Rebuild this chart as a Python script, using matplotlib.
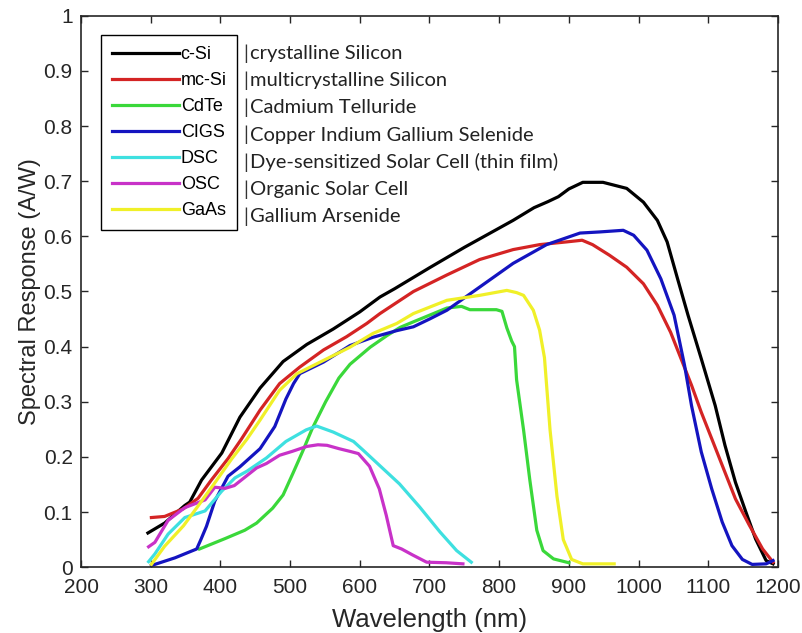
import numpy as np
import matplotlib
matplotlib.use('Agg')
import matplotlib.pyplot as plt

plt.rcParams['font.family'] = ['Liberation Sans', 'DejaVu Sans']

# spectral response curves
csi_x = [296, 320, 349, 356, 373, 402, 428, 457, 490, 524, 562, 600, 629, 650, 700, 750, 800, 820, 850,
         870, 885, 900, 920, 949, 983, 1007, 1027, 1041, 1056, 1071, 1090, 1110, 1124, 1139, 1154, 1168, 1183, 1193]
csi_y = [0.062, 0.08, 0.112, 0.118, 0.158, 0.207, 0.272, 0.325, 0.373, 0.404, 0.432, 0.463, 0.49, 0.505, 0.543,
         0.58, 0.615, 0.629, 0.652, 0.663, 0.672, 0.686, 0.698, 0.698, 0.687, 0.662, 0.629, 0.59, 0.523, 0.457,
         0.378, 0.293, 0.221, 0.154, 0.1, 0.051, 0.012, 0.006]

mcsi_x = [301, 320, 347, 368, 387, 411, 430, 457, 485, 514, 548, 581, 610, 629, 677, 725, 772, 820, 858, 897,
          919, 934, 958, 983, 1007, 1027, 1046, 1061, 1076, 1090, 1105, 1124, 1139, 1159, 1178, 1193]
mcsi_y = [0.09, 0.092, 0.106, 0.125, 0.158, 0.197, 0.232, 0.285, 0.333, 0.363, 0.394, 0.418, 0.442, 0.46, 0.5,
          0.53, 0.558, 0.576, 0.585, 0.59, 0.593, 0.585, 0.566, 0.544, 0.514, 0.475, 0.426, 0.378, 0.33, 0.281,
          0.233, 0.172, 0.124, 0.076, 0.033, 0.009]

cdte_x = [370, 407, 435, 452, 475, 490, 504, 518, 532, 551, 570, 586, 615, 639, 658, 677, 725, 746, 758, 796,
          804, 811, 818, 822, 825, 835, 844, 854, 863, 878, 900]
cdte_y = [0.033, 0.052, 0.067, 0.08, 0.107, 0.131, 0.17, 0.21, 0.252, 0.3, 0.343, 0.368, 0.399, 0.42, 0.435,
          0.445, 0.47, 0.473, 0.467, 0.467, 0.464, 0.434, 0.41, 0.4, 0.34, 0.249, 0.158, 0.067, 0.03, 0.015, 0.008]

cigs_x = [301, 335, 366, 372, 380, 392, 411, 428, 457, 478, 494, 505, 514, 548, 586, 619, 653, 677, 700, 725,
          772, 820, 868, 916, 944, 978, 993, 1012, 1032, 1051, 1066, 1076, 1090, 1105, 1120, 1134, 1149, 1163,
          1183, 1193]
cigs_y = [0.003, 0.017, 0.033, 0.05, 0.074, 0.12, 0.165, 0.182, 0.215, 0.255, 0.305, 0.333, 0.351, 0.372, 0.402,
          0.417, 0.429, 0.436, 0.45, 0.466, 0.508, 0.551, 0.585, 0.606, 0.608, 0.611, 0.602, 0.575, 0.523, 0.457,
          0.366, 0.293, 0.209, 0.142, 0.082, 0.039, 0.014, 0.005, 0.006, 0.012]

dsc_x = [297, 306, 325, 349, 378, 402, 421, 438, 466, 494, 523, 538, 562, 591, 605, 628, 657, 686, 715, 739, 760]
dsc_y = [0.01, 0.024, 0.06, 0.09, 0.102, 0.138, 0.162, 0.174, 0.198, 0.228, 0.249, 0.256, 0.245, 0.228, 0.212,
         0.185, 0.151, 0.109, 0.064, 0.03, 0.009]

osc_x = [297, 306, 325, 349, 378, 392, 407, 420, 452, 466, 485, 503, 524, 540, 553, 570, 586, 598, 614, 628,
         638, 648, 660, 676, 696, 724, 748]
osc_y = [0.037, 0.045, 0.085, 0.108, 0.122, 0.145, 0.143, 0.148, 0.18, 0.188, 0.203, 0.21, 0.219, 0.222, 0.221,
         0.215, 0.21, 0.206, 0.183, 0.142, 0.094, 0.039, 0.033, 0.022, 0.009, 0.008, 0.006]

gaas_x = [301, 320, 347, 368, 392, 416, 438, 457, 485, 510, 548, 586, 619, 653, 677, 725, 772, 811, 825, 835,
          849, 858, 865, 873, 883, 892, 904, 920, 965]
gaas_y = [0.005, 0.038, 0.075, 0.111, 0.153, 0.196, 0.232, 0.267, 0.321, 0.351, 0.375, 0.399, 0.424, 0.442,
          0.46, 0.484, 0.493, 0.502, 0.498, 0.493, 0.466, 0.43, 0.38, 0.249, 0.128, 0.05, 0.014, 0.006, 0.006]

short_names = ['c-Si', 'mc-Si', 'CdTe', 'CIGS', 'DSC', 'OSC', 'GaAs']
long_names = ['crystalline Silicon', 'multicrystalline Silicon', 'Cadmium Telluride',
              'Copper Indium Gallium Selenide', 'Dye-sensitized Solar Cell (thin film)',
              'Organic Solar Cell', 'Gallium Arsenide']
colors = ['#000000', '#d42424', '#3ad83a', '#1414c0', '#3ee0e0', '#c832c8', '#f0f028']

xs = [csi_x, mcsi_x, cdte_x, cigs_x, dsc_x, osc_x, gaas_x]
ys = [csi_y, mcsi_y, cdte_y, cigs_y, dsc_y, osc_y, gaas_y]

fig = plt.figure(figsize=(8.02, 6.33), dpi=100)
ax = fig.add_axes([0.101, 0.104, 0.869, 0.871])

for x, y, c, n in zip(xs, ys, colors, short_names):
  ax.plot(x, y, color=c, lw=2.3, label=n, solid_joinstyle='round')

ax.set_xlim(200, 1200)
ax.set_ylim(0, 1)
ax.set_xticks(np.arange(200, 1201, 100))
ax.set_yticks(np.arange(0, 1.01, 0.1))
ax.set_yticklabels(['0', '0.1', '0.2', '0.3', '0.4', '0.5', '0.6', '0.7', '0.8', '0.9', '1'])
ax.tick_params(direction='in', top=True, right=True, length=5, width=1, colors='#262626',
               labelsize=15, pad=6)
ax.tick_params(axis='x', pad=8)
for s in ax.spines.values():
  s.set_color('#262626')
  s.set_linewidth(1.2)

ax.set_xlabel('Wavelength (nm)', fontsize=18.5, color='#262626', labelpad=8)
ax.set_ylabel('Spectral Response (A/W)', fontsize=17, color='#262626', labelpad=2)

leg = ax.legend(loc='upper left', bbox_to_anchor=(0.029, 0.965), borderaxespad=0, fontsize=13,
                handlelength=3.7, handletextpad=0.1, borderpad=0.6, labelspacing=0.5,
                fancybox=False, framealpha=1, edgecolor='black')
leg.get_frame().set_linewidth(1.0)

# descriptions next to the legend
row_top = 0.932
row_step = 0.0494
for i, t in enumerate(long_names):
  ax.text(0.233, row_top - i * row_step, '|', transform=ax.transAxes, fontsize=14,
          va='center', ha='left', family=['Lato', 'DejaVu Sans'], color='#333333')
  ax.text(0.243, row_top - i * row_step, t, transform=ax.transAxes, fontsize=14.5,
          va='center', ha='left', family=['Lato', 'DejaVu Sans'], color='#222222')

plt.savefig('out.png', dpi=100)
